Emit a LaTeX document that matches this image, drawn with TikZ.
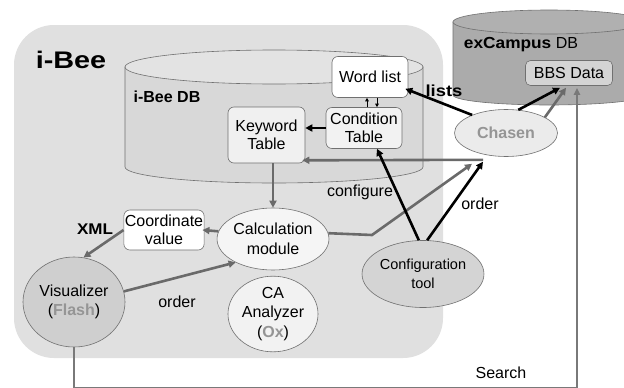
\documentclass[tikz,border=0pt]{standalone}
\usepackage{fontspec}
\setmainfont{Liberation Sans}
\usetikzlibrary{arrows.meta,shapes.geometric,calc}
\definecolor{bgc}{HTML}{E0E0E0}
\definecolor{dbbody}{HTML}{D8D8D8}
\definecolor{dbtop}{HTML}{E3E3E3}
\definecolor{exbody}{HTML}{ABABAB}
\definecolor{extop}{HTML}{B0B0B0}
\definecolor{linec}{HTML}{6A6A6A}
\definecolor{txtg}{HTML}{959595}
\definecolor{outl}{HTML}{707070}
\tikzset{
  box/.style={draw=outl, line width=0.6pt, rounded corners=6pt, align=center, inner sep=1pt, font=\fontsize{16}{18.5}\selectfont},
  ell/.style={ellipse, draw=outl, line width=0.6pt, align=center, inner sep=0pt, font=\fontsize{16}{19.5}\selectfont},
  blk/.style={line width=2.6pt, black, -{Triangle[length=7pt,width=7pt]}},
  gry/.style={line width=2.6pt, linec, -{Triangle[length=7pt,width=7pt]}},
  tiny/.style={line width=0.7pt, black, -{Triangle[length=3.5pt,width=3.5pt]}},
  srch/.style={line width=2pt, linec!90, -{Triangle[length=7pt,width=6pt]}},
  lbl/.style={font=\fontsize{16}{17}\selectfont, inner sep=0pt},
}
\begin{document}
\begin{tikzpicture}[x=1pt,y=-1pt]
\useasboundingbox (0,0) rectangle (624,388);
\fill[white] (0,0) rectangle (624,388);
\begin{scope}
\clip (0,0) rectangle (624,388);
% i-Bee area
\fill[bgc, rounded corners=40pt] (14,25) rectangle (443,358);
% i-Bee DB cylinder
\filldraw[fill=dbbody, draw=outl, line width=0.6pt] (125,67) -- (125,167) arc[start angle=180, end angle=360, x radius=149pt, y radius=16pt] -- (423,67) -- cycle;
\filldraw[fill=dbtop, draw=outl, line width=0.6pt] (274,67) ellipse[x radius=149pt, y radius=17pt];
% exCampus DB cylinder
\filldraw[fill=exbody, draw=outl, line width=0.6pt] (453,22) -- (453,95) arc[start angle=180, end angle=360, x radius=96pt, y radius=10pt] -- (645,22) -- cycle;
\filldraw[fill=extop, draw=outl, line width=0.6pt] (549,22) ellipse[x radius=96pt, y radius=12pt];

% titles
\node[inner sep=0pt] (ibee) at (71,60) {\scalebox{1.2}[1]{\fontsize{24}{24}\selectfont\bfseries i-Bee}};
\node[inner sep=0pt] (ibeedb) at (167,97) {\fontsize{16}{16}\selectfont\bfseries i-Bee DB};
\node[inner sep=0pt] (exdb) at (521,45) {\fontsize{16}{16}\selectfont\scalebox{1.08}[1]{\bfseries exCampus} DB};

% boxes
\node[box, fill=white, minimum width=76pt, minimum height=41pt] (wl) at (370,77) {Word list};
\node[box, fill=white!95!black, minimum width=76pt, minimum height=41pt] (ct) at (364,128) {Condition\\Table};
\node[box, fill=white!94!black, minimum width=77pt, minimum height=56pt] (kw) at (266.5,135) {Keyword\\Table};
\node[box, fill=white, minimum width=78pt, minimum height=40pt] (cv) at (164,230) {Coordinate\\value};
\node[box, fill=white!83!black, minimum width=87pt, minimum height=25pt, rounded corners=5pt] (bbs) at (569,73) {BBS Data};

% ellipses
\node[ell, fill=white!92!black, minimum width=103pt, minimum height=47pt, font=\fontsize{16}{18}\selectfont\bfseries, text=txtg] (chasen) at (506,133) {Chasen};
\node[ell, fill=white!96!black, minimum width=90pt, minimum height=62pt] (calc) at (273,239) {Calculation\\module};
\node[ell, fill=white!95!black, minimum width=90pt, minimum height=64pt] (ca) at (273,314) {CA\\Analyzer\\(\textcolor{txtg}{\bfseries Ox})};
\node[ell, fill=white!81!black, minimum width=102pt, minimum height=90pt] (vis) at (74,302) {Visualizer\\(\textcolor{txtg}{\bfseries Flash})};
\node[ell, fill=white!83!black, minimum width=92pt, minimum height=67pt, font=\fontsize{14.5}{19}\selectfont] (cfg) at (423,274) {Configuration\\tool};

% labels
\node[inner sep=0pt] (lists) at (444,91) {\scalebox{1.15}[1]{\fontsize{16}{16}\selectfont\bfseries lists}};
\node[inner sep=0pt] (xml) at (95,229) {\scalebox{1.1}[1]{\fontsize{15.5}{16}\selectfont\bfseries XML}};
\node[lbl] (ord1) at (177,302) {order};
\node[lbl] (conf) at (360,192) {configure};
\node[lbl] (ord2) at (480,204) {order};
\node[lbl] (search) at (501,373) {Search};

% connectors
\draw[blk] (ct.west) -- (kw.east |- ct.west);
\draw[tiny] ([xshift=3pt]ct.north) -- ([xshift=3pt]ct.north |- wl.south);
\draw[tiny] ([xshift=13pt]ct.north |- wl.south) -- ([xshift=13pt]ct.north);
\draw[blk] (chasen.152) -- ([xshift=-3pt,yshift=9pt]wl.south east);
\draw[blk] (chasen.62) -- ([xshift=-9pt,yshift=-2pt]bbs.south);
\draw[gry] (chasen.22) -- ([xshift=-3pt,yshift=-2pt]bbs.south);
\draw[gry] ([xshift=-23pt,yshift=-3pt]chasen.south) -- ([xshift=-3pt,yshift=3pt]kw.south east);
\draw[gry] (kw.south -| calc.north) -- (calc.north);
\draw[gry] (calc.172) -- ([xshift=-2pt]cv.east);
\draw[gry] (cv.west) -- (vis.78);
\draw[gry] (vis.12) -- (calc.212);
\coordinate (bend) at (372,235);
\draw[gry] (calc.6) -- (bend) -- ([xshift=-34pt,yshift=-7pt]chasen.south);
\draw[blk] (cfg.97) -- ([xshift=13pt]ct.south);
\draw[blk] (cfg.83) -- ([xshift=-23pt,yshift=-5pt]chasen.south);
\coordinate (sb) at (0,387.5);
\draw[srch] (vis.south) -- (vis.south |- sb) -| ([xshift=8pt,yshift=-2pt]bbs.south);
\end{scope}
\end{tikzpicture}
\end{document}
